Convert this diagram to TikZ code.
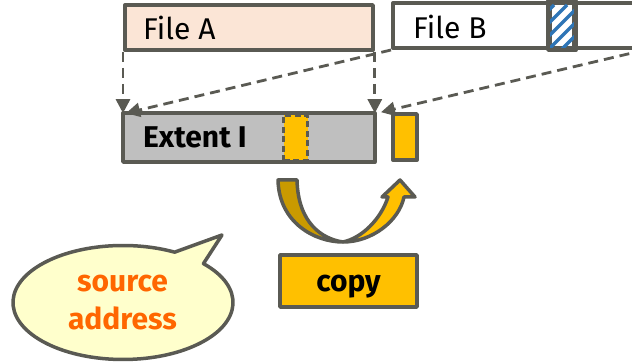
\documentclass[tikz,border=0pt]{standalone}
\usepackage{fontspec}
\setmainfont{Fira Sans}
\usetikzlibrary{arrows.meta,calc}

\definecolor{edge}{HTML}{5A5A53}
\definecolor{peach}{HTML}{FBE5D6}
\definecolor{extgray}{HTML}{BFBFBF}
\definecolor{gold}{HTML}{FFC000}
\definecolor{darkgold}{HTML}{C99A00}
\definecolor{hatchblue}{HTML}{2E75B6}
\definecolor{bubblefill}{HTML}{FFFFCC}
\definecolor{srcorange}{HTML}{FF6600}

\begin{document}
\begin{tikzpicture}[x=1pt,y=1pt,
  box/.style={draw=edge, line width=3.8pt, line join=round, inner sep=0pt,
    minimum height=45pt, anchor=south west},
  plain/.style={font=\fontsize{30}{38}\selectfont, inner sep=0pt},
  heavy/.style={font=\fontsize{30}{38}\selectfont\bfseries, inner sep=0pt},
  link/.style={draw=edge, line width=2.8pt, dash pattern=on 10pt off 6pt,
    -{Triangle[length=14pt,width=14pt]}},
  shell/.style={draw=edge, line width=3.5pt, line join=round},
]
\clip (0,0) rectangle (632,363);

% source files
\node[box, fill=peach, minimum width=248pt] (fileA) at (123,311) {};
\node[plain, anchor=base west] (labelA) at (143,323) {File A};
\node[box, fill=white, minimum width=250pt] (fileB) at (391,313) {};
\node[plain, anchor=base west] (labelB) at (413,324) {File B};

% hatched block inside file B
\node[box, minimum width=24pt] (hatch) at (548,313) {};
\begin{scope}
  \clip (hatch.south west) rectangle (hatch.north east);
  \foreach \k in {0,...,7}
    \draw[hatchblue, line width=3.5pt] (496+\k*13,313) -- (541+\k*13,358);
\end{scope}
\draw[edge, line width=3.8pt, line join=round] (hatch.south west) rectangle (hatch.north east);

% extent with the shared block
\node[box, draw=none, fill=extgray, minimum width=248pt] (ext) at (123,201) {};
\node[box, fill=gold, minimum width=24pt, line width=3pt,
  dash pattern=on 6pt off 3.5pt] (blk) at (282,201) {};
\draw[edge, line width=3.8pt, line join=round] (ext.south west) rectangle (ext.north east);
\node[heavy, anchor=base west] (labelE) at (143,215) {Extent I};

% newly written block
\node[box, fill=gold, minimum width=24pt, minimum height=46pt] (blk2) at (391,201) {};

% mappings
\draw[link] (fileA.south west) -- (ext.north west);
\draw[link] (fileA.south east) -- (ext.north east);
\draw[link] (fileB.south west) -- ($(ext.north west)+(3,0)$);
\draw[link] (fileB.south east) -- ($(blk2.north west)+(-10,0)$);

% curved copy arrow
\draw[shell, fill=darkgold] (278,183) .. controls (279,140) and (315,121) .. (343,121)
  .. controls (322,124) and (298,140) .. (297,183) -- cycle;
\draw[shell, fill=gold] (343,121) .. controls (372,121) and (399,142) .. (404,166)
  -- (415,166) -- (400,183) -- (382,166) -- (388,166)
  .. controls (381,144) and (362,125) .. (343,121) -- cycle;

% copy label
\node[box, anchor=center, fill=gold, minimum width=137pt, minimum height=52pt] (copy) at (348.5,82) {};
\node[heavy, anchor=base] (labelC) at (348.5,71) {copy};

% speech bubble
\coordinate (bc) at (123,60.5);
\draw[shell, fill=bubblefill] ($(bc)+(43:110 and 57)$)
  arc[start angle=43, end angle=-298, x radius=110, y radius=57]
  -- (222,128) -- cycle;
\node[heavy, text=srcorange, anchor=base] (src1) at (122.5,71) {source};
\node[heavy, text=srcorange, anchor=base] (src2) at (122.5,33) {address};
\end{tikzpicture}
\end{document}
